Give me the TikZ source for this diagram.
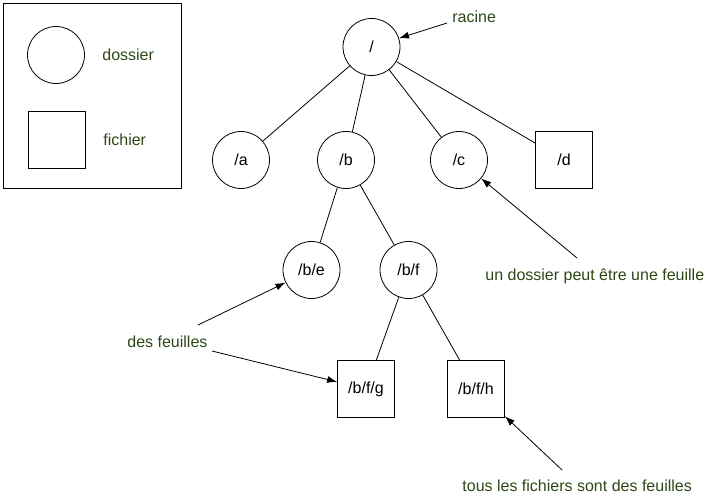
\documentclass[tikz,border=0pt]{standalone}
\usepackage{fontspec}
\setmainfont{Liberation Sans}
\usetikzlibrary{arrows.meta}
\definecolor{vertnote}{RGB}{45,72,22}

\begin{document}
\begin{tikzpicture}[x=1pt, y=-1pt, line width=0.8pt,
		every node/.style={font=\fontsize{16}{19}\selectfont},
		dossier/.style={draw, circle, minimum size=57pt, inner sep=0pt},
		fichier/.style={draw, rectangle, minimum size=57pt, inner sep=0pt},
		note/.style={text=vertnote, inner sep=0pt, anchor=base west},
		fleche/.style={-{Latex[length=10pt,width=7pt]}}]
		\useasboundingbox (0,0) rectangle (711,502);

		% legende
		\draw (3,3) rectangle (181,188);
		\node[dossier] (legDossier) at (56,55) {};
		\node[fichier] (legFichier) at (56.5,139.5) {};
		\node[note] (txtDossier) at (102,61) {dossier};
		\node[note] (txtFichier) at (103,146) {fichier};

		% arbre
		\node[dossier] (racine) at (371.5,47) {/};
		\node[dossier] (a) at (241,160) {/a};
		\node[dossier] (b) at (346,160) {/b};
		\node[dossier] (c) at (459,160) {/c};
		\node[fichier] (d) at (564,160) {/d};
		\node[dossier] (be) at (311.5,270) {/b/e};
		\node[dossier] (bf) at (408.5,270) {/b/f};
		\node[fichier] (bfg) at (366,389) {/b/f/g};
		\node[fichier] (bfh) at (476,389) {/b/f/h};

		\foreach \p/\f in {racine/a, racine/b, racine/c, racine/d, b/be, b/bf, bf/bfg, bf/bfh}
			\draw (\p) -- (\f);

		% remarques
		\node[note] (txtRacine) at (452,23) {racine};
		\node[note] (txtFeuilles) at (127,347) {des feuilles};
		\node[note] (txtDossierFeuille) at (485,280) {un dossier peut être une feuille};
		\node[note] (txtFichiers) at (462,491.5) {tous les fichiers sont des feuilles};

		\coordinate (pRacine) at (447,23);
		\coordinate (pFeuille1) at (198,325);
		\coordinate (pFeuille2) at (212,351);
		\coordinate (pDossier) at (577,258);
		\coordinate (pFichiers) at (562,470);

		\begin{scope}[fleche]
			\draw (pRacine) -- (racine);
			\draw (pFeuille1) -- (be);
			\draw (pFeuille2) -- (bfg);
			\draw (pDossier) -- (c);
			\draw (pFichiers) -- (bfh);
		\end{scope}
	\end{tikzpicture}
\end{document}
